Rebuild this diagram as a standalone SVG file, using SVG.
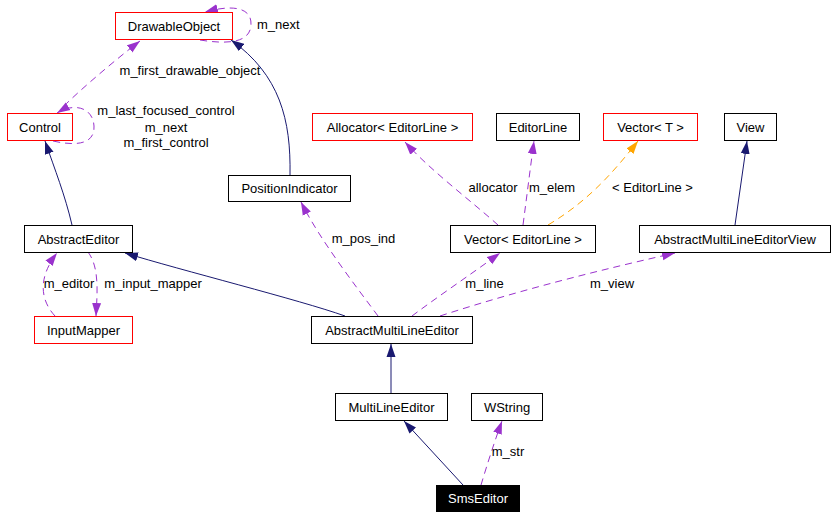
<svg xmlns="http://www.w3.org/2000/svg" width="835" height="517" viewBox="0 0 835 517">
<defs>
<style>
.box{fill:#fff;stroke:#000;stroke-width:1}
.red{fill:#fff;stroke:#ff0000;stroke-width:1}
.root{fill:#000;stroke:#000;stroke-width:1}
text{font-family:"Liberation Sans",Arial,sans-serif;font-size:13px;fill:#000}
.nt{text-anchor:middle}
.wt{fill:#fff}
.inh{fill:none;stroke:#191970;stroke-width:1}
.use{fill:none;stroke:#9a32cd;stroke-width:1;stroke-dasharray:7,5}
.tpl{fill:none;stroke:#ffa500;stroke-width:1;stroke-dasharray:7,5}
.lbl{text-anchor:middle}
</style>
<marker id="aN" markerUnits="userSpaceOnUse" markerWidth="14" markerHeight="10" refX="13" refY="5" orient="auto"><path d="M0,0.5 L13,5 L0,9.5 z" fill="#191970"/></marker>
<marker id="aP" markerUnits="userSpaceOnUse" markerWidth="14" markerHeight="10" refX="13" refY="5" orient="auto"><path d="M0,0.5 L13,5 L0,9.5 z" fill="#9a32cd"/></marker>
<marker id="aO" markerUnits="userSpaceOnUse" markerWidth="14" markerHeight="10" refX="13" refY="5" orient="auto"><path d="M0,0.5 L13,5 L0,9.5 z" fill="#ffa500"/></marker>
</defs>
<rect width="835" height="517" fill="#fff"/>
<g id="connectors">
<path class="inh" marker-end="url(#aN)" d="M290,175 C291,120 280,75 231,40"/>
<path class="inh" marker-end="url(#aN)" d="M72,225 C65,195 55,170 45,141"/>
<path class="inh" marker-end="url(#aN)" d="M345,316 C300,300 180,270 125,253"/>
<path class="inh" marker-end="url(#aN)" d="M735,225 L747,141"/>
<path class="inh" marker-end="url(#aN)" d="M391,393 L391,344"/>
<path class="inh" marker-end="url(#aN)" d="M463,485 L404,421"/>
<path class="use" marker-end="url(#aP)" d="M481,485 C487,465 495,440 502,421"/>
<path class="use" marker-end="url(#aP)" d="M64,106 C80,90 115,60 140,41"/>
<path class="use" marker-end="url(#aP)" d="M53,141 C75,146 95,145 94,126 C93,108 75,102 57,113"/>
<path class="use" marker-end="url(#aP)" d="M200,40 C225,44 250,44 251,25 C252,6 230,5 205,12"/>
<path class="use" marker-end="url(#aP)" d="M55,316 C42,302 36,280 57,253"/>
<path class="use" marker-end="url(#aP)" d="M88,252 C100,268 97,295 96,316"/>
<path class="use" marker-end="url(#aP)" d="M378,316 C355,285 320,240 301,202"/>
<path class="use" marker-end="url(#aP)" d="M412,316 C440,295 470,275 500,253"/>
<path class="use" marker-end="url(#aP)" d="M440,316 C520,290 600,270 675,253"/>
<path class="use" marker-end="url(#aP)" d="M498,225 C470,200 430,170 405,142"/>
<path class="use" marker-end="url(#aP)" d="M523,225 C527,195 530,170 534,141"/>
<path class="tpl" marker-end="url(#aO)" d="M548,225 C590,200 615,170 638,141"/>
<text x="257" y="29">m_next</text>
<text class="lbl" x="190" y="75">m_first_drawable_object</text>
<text class="lbl" x="166" y="115">m_last_focused_control</text>
<text class="lbl" x="166" y="132">m_next</text>
<text class="lbl" x="166" y="147">m_first_control</text>
<text class="lbl" x="363.5" y="243">m_pos_ind</text>
<text class="lbl" x="493" y="192">allocator</text>
<text class="lbl" x="552" y="192">m_elem</text>
<text class="lbl" x="652.5" y="192">&lt; EditorLine &gt;</text>
<text class="lbl" x="484.5" y="288">m_line</text>
<text class="lbl" x="612" y="288">m_view</text>
<text class="lbl" x="69" y="288">m_editor</text>
<text class="lbl" x="153" y="288">m_input_mapper</text>
<text class="lbl" x="508" y="456">m_str</text>
</g>
<g id="DrawableObject"><rect class="red" x="115.5" y="12.5" width="117" height="27"/><text class="nt" x="174" y="30.5">DrawableObject</text></g>
<g id="Control"><rect class="red" x="7.5" y="113.5" width="65" height="27"/><text class="nt" x="40" y="131.5">Control</text></g>
<g id="PositionIndicator"><rect class="box" x="228.5" y="175.5" width="122" height="26"/><text class="nt" x="289.5" y="193">PositionIndicator</text></g>
<g id="Allocator"><rect class="red" x="312.5" y="113.5" width="160" height="27"/><text class="nt" x="392.5" y="131.5">Allocator&lt; EditorLine &gt;</text></g>
<g id="EditorLine"><rect class="box" x="496.5" y="113.5" width="83" height="27"/><text class="nt" x="538" y="131.5">EditorLine</text></g>
<g id="VectorT"><rect class="red" x="603.5" y="113.5" width="94" height="27"/><text class="nt" x="650.5" y="131.5">Vector&lt; T &gt;</text></g>
<g id="View"><rect class="box" x="724.5" y="113.5" width="52" height="27"/><text class="nt" x="750.5" y="131.5">View</text></g>
<g id="AbstractEditor"><rect class="box" x="24.5" y="225.5" width="108" height="27"/><text class="nt" x="78.5" y="243.5">AbstractEditor</text></g>
<g id="VectorEditorLine"><rect class="box" x="450.5" y="225.5" width="145" height="27"/><text class="nt" x="523" y="243.5">Vector&lt; EditorLine &gt;</text></g>
<g id="AbstractMultiLineEditorView"><rect class="box" x="639.5" y="225.5" width="191" height="27"/><text class="nt" x="735" y="243.5">AbstractMultiLineEditorView</text></g>
<g id="InputMapper"><rect class="red" x="34.5" y="316.5" width="98" height="27"/><text class="nt" x="83.5" y="334.5">InputMapper</text></g>
<g id="AbstractMultiLineEditor"><rect class="box" x="311.5" y="316.5" width="161" height="27"/><text class="nt" x="392" y="334.5">AbstractMultiLineEditor</text></g>
<g id="MultiLineEditor"><rect class="box" x="335.5" y="393.5" width="112" height="27"/><text class="nt" x="391.5" y="411.5">MultiLineEditor</text></g>
<g id="WString"><rect class="box" x="471.5" y="393.5" width="71" height="27"/><text class="nt" x="507" y="411.5">WString</text></g>
<g id="SmsEditor"><rect class="root" x="436.5" y="485.5" width="83" height="26"/><text class="nt wt" x="478" y="503">SmsEditor</text></g>
</svg>
